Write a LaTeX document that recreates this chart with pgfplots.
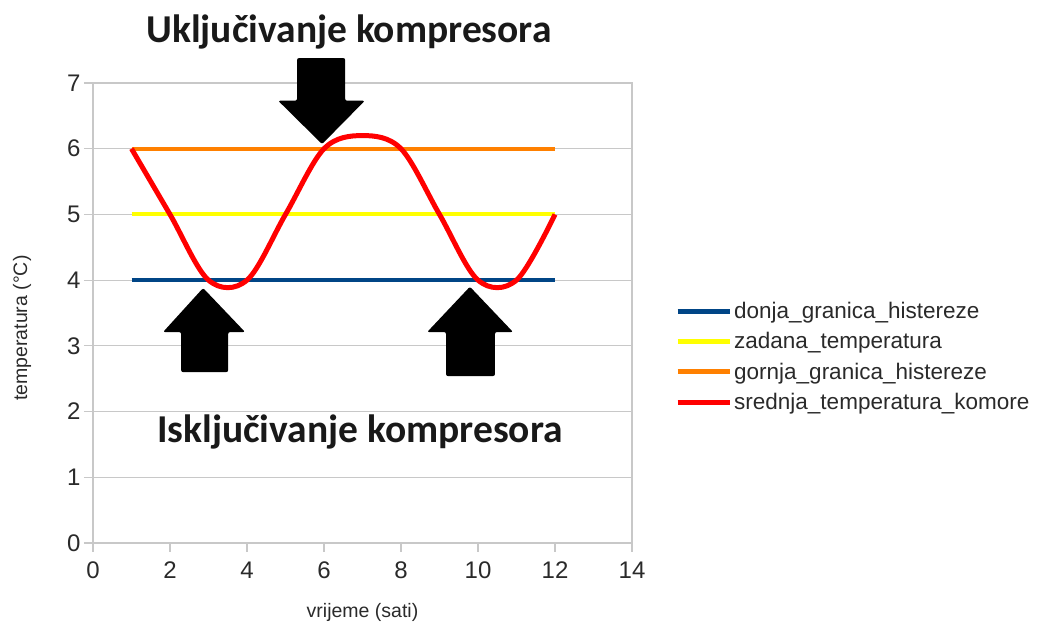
\documentclass[border=0pt]{standalone}
\usepackage{pgfplots}
\pgfplotsset{compat=1.18}
\usepackage{fontspec}
\setmainfont{Liberation Sans}
\newfontfamily\calibri{Carlito}
\definecolor{lblue}{HTML}{004586}
\definecolor{lyellow}{HTML}{FFFF00}
\definecolor{lorange}{HTML}{FF8000}
\definecolor{lred}{HTML}{FF0000}
\definecolor{gridc}{HTML}{C8C8C8}
\definecolor{txt}{HTML}{2A2A2A}
\begin{document}
\begin{tikzpicture}
\useasboundingbox (-93pt,-85pt) rectangle (945pt,543pt);
\begin{axis}[
  scale only axis,
  width=539pt, height=460pt,
  xmin=0, xmax=14, ymin=0, ymax=7,
  xtick={0,2,...,14}, ytick={0,1,...,7},
  ymajorgrids, grid style={gridc, line width=1.2pt},
  axis line style={gridc, line width=1.2pt},
  tick style={gridc, line width=1.2pt},
  tick align=outside, major tick length=9pt,
  xtick pos=bottom, ytick pos=left,
  ticklabel style={font=\fontsize{24}{26}\selectfont, text=txt},
  xticklabel style={yshift=-6pt},
  /pgf/number format/assume math mode=true,
  xlabel={vrijeme (sati)}, ylabel={temperatura (°C)},
  label style={font=\fontsize{19.5}{21}\selectfont, text=txt},
  xlabel style={at={(axis description cs:0.5,-0.150)}, anchor=center},
  ylabel style={at={(axis description cs:-0.1317,0.467)}, anchor=center},
  clip=false,
  legend style={at={(582pt,243pt)}, anchor=north west, draw=none, fill=none,
    font=\fontsize{22.5}{24}\selectfont, text=txt, inner sep=0pt,
    row sep=8.5pt, cells={anchor=west}},
  legend cell align=left,
  legend image code/.code={\draw[#1, line width=5pt] (0pt,0pt) -- (52pt,0pt);},
]
\addplot[lblue, line width=4pt] coordinates {(1,4) (12,4)};
\addlegendentry{donja\_granica\_histereze}
\addplot[lyellow, line width=4pt] coordinates {(1,5) (12,5)};
\addlegendentry{zadana\_temperatura}
\addplot[lorange, line width=4pt] coordinates {(1,6) (12,6)};
\addlegendentry{gornja\_granica\_histereze}
\addplot[lred, line width=5pt, smooth, tension=0.55] coordinates {
 (1,6) (2,5) (3,4) (4,4) (5,5) (6,6) (7,6.2) (8,6) (9,5) (10,4) (11,4) (12,5)};
\addlegendentry{srednja\_temperatura\_komore}
% block arrows
\fill[black, rounded corners=2pt] (axis cs:5.30,7.38) -- (axis cs:6.55,7.38) -- (axis cs:6.55,6.73) -- (axis cs:7.06,6.73) -- (axis cs:5.95,6.07) -- (axis cs:4.81,6.73) -- (axis cs:5.30,6.73) -- cycle;
\fill[black, rounded corners=2pt] (axis cs:2.29,2.60) -- (axis cs:3.51,2.60) -- (axis cs:3.51,3.21) -- (axis cs:3.95,3.21) -- (axis cs:2.86,3.88) -- (axis cs:1.82,3.21) -- (axis cs:2.29,3.21) -- cycle;
\fill[black, rounded corners=2pt] (axis cs:9.17,2.54) -- (axis cs:10.44,2.54) -- (axis cs:10.44,3.21) -- (axis cs:10.91,3.21) -- (axis cs:9.79,3.90) -- (axis cs:8.68,3.21) -- (axis cs:9.17,3.21) -- cycle;
\end{axis}
\node[font=\calibri\bfseries\fontsize{39.5}{41}\selectfont, text=black!90] at (256pt,511pt) {Uključivanje kompresora};
\node[font=\calibri\bfseries\fontsize{39.5}{41}\selectfont, text=black!90] at (267pt,111pt) {Isključivanje kompresora};
\end{tikzpicture}
\end{document}
